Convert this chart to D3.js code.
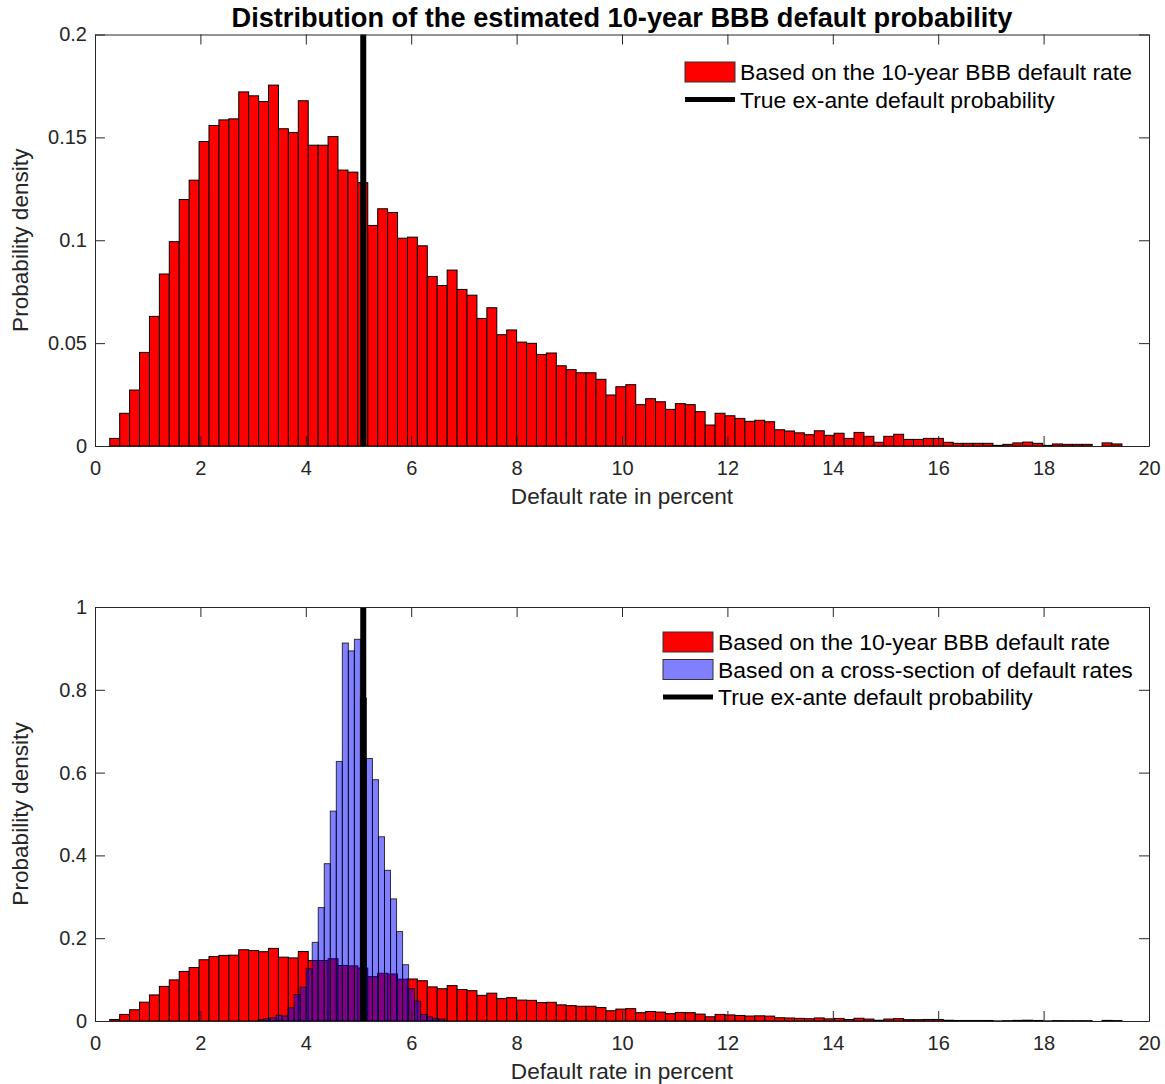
<!DOCTYPE html>
<html>
<head>
<meta charset="utf-8">
<script src="https://cdn.jsdelivr.net/npm/d3@7"></script>
<style>
  html, body { margin: 0; padding: 0; background: #fff; }
  svg { display: block; font-family: "Liberation Sans", Arial, Helvetica, sans-serif; }
</style>
</head>
<body>
<svg id="chart" width="1165" height="1084"></svg>
<script>
// ---------------- DATA ----------------
const titleText = "Distribution of the estimated 10-year BBB default probability";
const xLabelText = "Default rate in percent";
const yLabelText = "Probability density";
const legendRed = "Based on the 10-year BBB default rate";
const legendBlue = "Based on a cross-section of default rates";
const legendLine = "True ex-ante default probability";

// histogram of the single 10-year BBB default rate (bin start, bin width, densities)
const redBinStart = 0.28;
const redBinWidth = 0.1883;
const redDensity = [
  0.0037, 0.0159, 0.0272, 0.0455, 0.0630, 0.0836, 0.0993, 0.1198, 0.1292, 0.1480,
  0.1558, 0.1585, 0.1590, 0.1721, 0.1702, 0.1674, 0.1754, 0.1542, 0.1524, 0.1678,
  0.1462, 0.1462, 0.1504, 0.1341, 0.1331, 0.1280, 0.1072, 0.1153, 0.1135, 0.1010,
  0.1015, 0.0973, 0.0824, 0.0780, 0.0855, 0.0761, 0.0733, 0.0620, 0.0672, 0.0541,
  0.0564, 0.0505, 0.0499, 0.0445, 0.0452, 0.0390, 0.0371, 0.0356, 0.0356, 0.0324,
  0.0248, 0.0288, 0.0298, 0.0201, 0.0230, 0.0215, 0.0178, 0.0206, 0.0201, 0.0167,
  0.0102, 0.0159, 0.0147, 0.0134, 0.0120, 0.0125, 0.0118, 0.0079, 0.0073, 0.0064,
  0.0055, 0.0074, 0.0052, 0.0062, 0.0037, 0.0066, 0.0047, 0.0018, 0.0047, 0.0057,
  0.0032, 0.0032, 0.0037, 0.0037, 0.0018, 0.0013, 0.0013, 0.0013, 0.0013, 0.0003,
  0.0008, 0.0015, 0.0019, 0.0013, 0.0003, 0.0010, 0.0008, 0.0008, 0.0008, 0.0000,
  0.0015, 0.0010
];

// histogram of the cross-section estimate
const blueBinStart = 3.093;
const blueBinWidth = 0.1143;
const blueDensity = [
  0.003, 0.006, 0.008, 0.014, 0.012, 0.032, 0.064, 0.082, 0.126, 0.190,
  0.274, 0.380, 0.507, 0.627, 0.913, 0.894, 0.922, 0.780, 0.634, 0.583,
  0.445, 0.364, 0.295, 0.216, 0.136, 0.078, 0.048, 0.016, 0.010, 0.006,
  0.005
];

const trueProb = 5.09;

const xTicks = [0, 2, 4, 6, 8, 10, 12, 14, 16, 18, 20];
const yTicksTop = [0, 0.05, 0.1, 0.15, 0.2];
const yTickLabelsTop = ["0", "0.05", "0.1", "0.15", "0.2"];
const yTicksBottom = [0, 0.2, 0.4, 0.6, 0.8, 1];
const yTickLabelsBottom = ["0", "0.2", "0.4", "0.6", "0.8", "1"];

// ---------------- DRAW ----------------
const svg = d3.select("#chart");
const axisColor = "#262626";
const L = 95, R = 1149;

const x = d3.scaleLinear().domain([0, 20]).range([L, R]);

function panel(top, bottom, yMax, yTicks, yLabels, series, legend) {
  const y = d3.scaleLinear().domain([0, yMax]).range([bottom, top]);
  const g = svg.append("g");

  // bars
  series.forEach(s => {
    g.append("g").selectAll("rect").data(s.values).join("rect")
      .attr("x", (d, i) => x(s.start + i * s.width))
      .attr("width", (d, i) => x(s.start + (i + 1) * s.width) - x(s.start + i * s.width))
      .attr("y", d => y(d))
      .attr("height", d => y(0) - y(d))
      .attr("fill", s.fill)
      .attr("fill-opacity", s.fillOpacity)
      .attr("stroke", "#000")
      .attr("stroke-opacity", s.strokeOpacity)
      .attr("stroke-width", 1);
  });

  // true probability line
  g.append("line")
    .attr("x1", x(trueProb)).attr("x2", x(trueProb))
    .attr("y1", y(0)).attr("y2", y(yMax))
    .attr("stroke", "#000").attr("stroke-width", 6);

  // axes (box with inward ticks)
  const ax = d3.axisBottom(x).tickValues(xTicks).tickFormat(d3.format("d"))
    .tickSizeInner(-10).tickSizeOuter(0).tickPadding(15);
  const gx = g.append("g").attr("transform", `translate(0,${bottom})`).call(ax);
  const axT = d3.axisTop(x).tickValues(xTicks).tickFormat("").tickSizeInner(-10).tickSizeOuter(0);
  const gxt = g.append("g").attr("transform", `translate(0,${top})`).call(axT);
  const ay = d3.axisLeft(y).tickValues(yTicks).tickFormat((d, i) => yLabels[i])
    .tickSizeInner(-10).tickSizeOuter(0).tickPadding(8);
  const gy = g.append("g").attr("transform", `translate(${L},0)`).call(ay);
  const ayR = d3.axisRight(y).tickValues(yTicks).tickFormat("").tickSizeInner(-10).tickSizeOuter(0);
  const gyr = g.append("g").attr("transform", `translate(${R},0)`).call(ayR);
  [gx, gxt, gy, gyr].forEach(a => {
    a.select(".domain").attr("stroke", axisColor).attr("stroke-width", 1);
    a.selectAll(".tick line").attr("stroke", axisColor).attr("stroke-width", 1);
    a.selectAll(".tick text").attr("fill", axisColor).style("font-size", "20px")
      .style("font-family", '"Liberation Sans", Arial, sans-serif');
  });

  // labels
  g.append("text").attr("x", (L + R) / 2).attr("y", bottom + 58)
    .attr("text-anchor", "middle").attr("fill", axisColor)
    .style("font-size", "22.6px").text(xLabelText);
  g.append("text")
    .attr("transform", `translate(28,${(top + bottom) / 2}) rotate(-90)`)
    .attr("text-anchor", "middle").attr("fill", axisColor)
    .style("font-size", "22.6px").text(yLabelText);

  // legend
  const lg = g.append("g");
  legend.items.forEach((it, i) => {
    const cy = legend.y + i * legend.step;
    if (it.type === "patch") {
      lg.append("rect").attr("x", legend.x).attr("y", cy - 10)
        .attr("width", 50).attr("height", 20)
        .attr("fill", it.fill).attr("stroke", "#333").attr("stroke-width", 1);
    } else {
      lg.append("line").attr("x1", legend.x).attr("x2", legend.x + 50)
        .attr("y1", cy).attr("y2", cy).attr("stroke", "#000").attr("stroke-width", 5);
    }
    lg.append("text").attr("x", legend.x + 55).attr("y", cy + 8)
      .attr("fill", "#000").style("font-size", "22.9px").text(it.label);
  });
  return g;
}

const redSeries = { values: redDensity, start: redBinStart, width: redBinWidth,
  fill: "#ff0000", fillOpacity: 1, strokeOpacity: 1 };
const blueSeries = { values: blueDensity, start: blueBinStart, width: blueBinWidth,
  fill: "#0000ff", fillOpacity: 0.5, strokeOpacity: 0.75 };

panel(34.5, 446, 0.2, yTicksTop, yTickLabelsTop, [redSeries], {
  x: 685, y: 72, step: 27.5,
  items: [
    { type: "patch", fill: "#ff0000", label: legendRed },
    { type: "line", label: legendLine }
  ]
});

panel(607, 1021, 1, yTicksBottom, yTickLabelsBottom, [redSeries, blueSeries], {
  x: 663, y: 642, step: 27.5,
  items: [
    { type: "patch", fill: "#ff0000", label: legendRed },
    { type: "patch", fill: "#8080ff", label: legendBlue },
    { type: "line", label: legendLine }
  ]
});

// title
svg.append("text").attr("x", (L + R) / 2).attr("y", 27)
  .attr("text-anchor", "middle").attr("fill", "#000")
  .style("font-size", "27.2px").style("font-weight", "bold").text(titleText);
</script>
</body>
</html>
